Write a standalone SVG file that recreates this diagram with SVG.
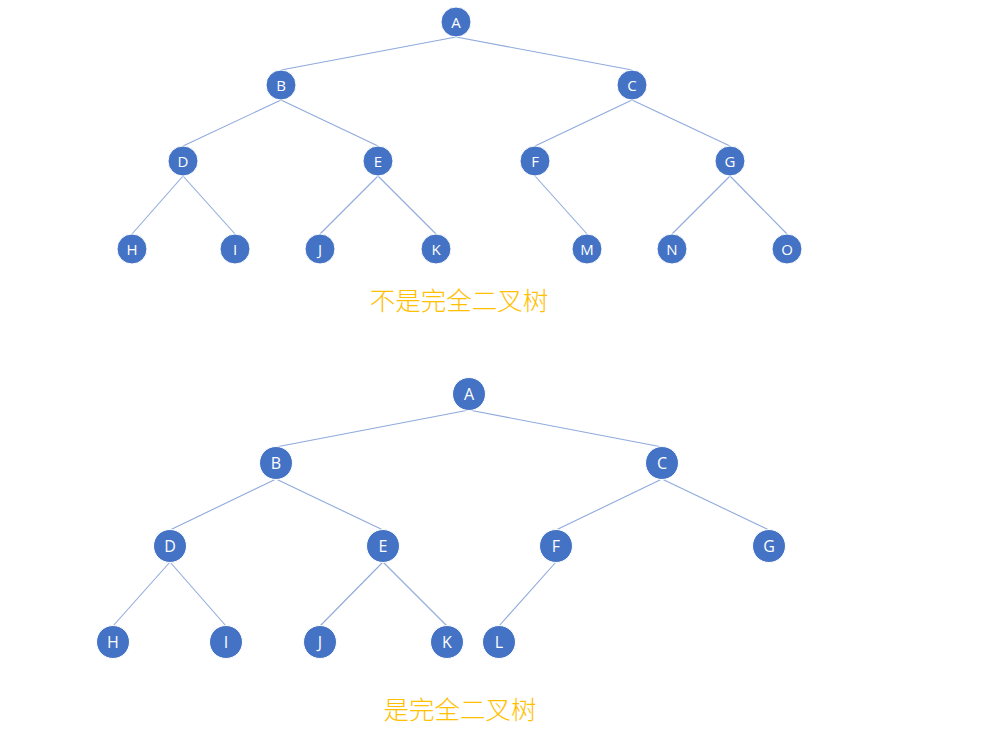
<svg xmlns="http://www.w3.org/2000/svg" width="987" height="744" viewBox="0 0 987 744">
<style>
.n circle{fill:#4472C4;stroke:#ffffff;stroke-width:1}
.n text{fill:#ffffff;font-family:"Open Sans","Liberation Sans",sans-serif;text-anchor:middle;dominant-baseline:central}
.t1 text{font-size:15px}
.t2 text{font-size:16px}
.e line{stroke:#8FAADC;stroke-width:1.1}
.cap{fill:#FFC000;font-family:"Noto Sans CJK SC",sans-serif;font-size:25.5px;font-weight:300;text-anchor:middle}
</style>
<rect width="987" height="744" fill="#ffffff"/>
<g id="edges1" class="e">
<line x1="456" y1="37" x2="281" y2="70"/>
<line x1="456" y1="37" x2="632" y2="70"/>
<line x1="281" y1="100" x2="183" y2="146"/>
<line x1="281" y1="100" x2="378" y2="146"/>
<line x1="632" y1="100" x2="535" y2="146"/>
<line x1="632" y1="100" x2="730" y2="146"/>
<line x1="183" y1="176" x2="132" y2="234"/>
<line x1="183" y1="176" x2="235" y2="234"/>
<line x1="378" y1="176" x2="320" y2="234"/>
<line x1="378" y1="176" x2="436" y2="234"/>
<line x1="535" y1="176" x2="587" y2="234"/>
<line x1="730" y1="176" x2="672" y2="234"/>
<line x1="730" y1="176" x2="787" y2="234"/>
</g>
<g class="n t1">
<g id="t1A"><circle cx="456" cy="22" r="15"/><text x="456" y="22">A</text></g>
<g id="t1B"><circle cx="281" cy="85" r="15"/><text x="281" y="85">B</text></g>
<g id="t1C"><circle cx="632" cy="85" r="15"/><text x="632" y="85">C</text></g>
<g id="t1D"><circle cx="183" cy="161" r="15"/><text x="183" y="161">D</text></g>
<g id="t1E"><circle cx="378" cy="161" r="15"/><text x="378" y="161">E</text></g>
<g id="t1F"><circle cx="535" cy="161" r="15"/><text x="535" y="161">F</text></g>
<g id="t1G"><circle cx="730" cy="161" r="15"/><text x="730" y="161">G</text></g>
<g id="t1H"><circle cx="132" cy="249" r="15"/><text x="132" y="249">H</text></g>
<g id="t1I"><circle cx="235" cy="249" r="15"/><text x="235" y="249">I</text></g>
<g id="t1J"><circle cx="320" cy="249" r="15"/><text x="320" y="249">J</text></g>
<g id="t1K"><circle cx="436" cy="249" r="15"/><text x="436" y="249">K</text></g>
<g id="t1M"><circle cx="587" cy="249" r="15"/><text x="587" y="249">M</text></g>
<g id="t1N"><circle cx="672" cy="249" r="15"/><text x="672" y="249">N</text></g>
<g id="t1O"><circle cx="787" cy="249" r="15"/><text x="787" y="249">O</text></g>
</g>
<text id="cap1" class="cap" x="459" y="310">不是完全二叉树</text>
<g id="edges2" class="e">
<line x1="469" y1="410" x2="276" y2="447"/>
<line x1="469" y1="410" x2="662" y2="447"/>
<line x1="276" y1="479" x2="170" y2="530"/>
<line x1="276" y1="479" x2="383" y2="530"/>
<line x1="662" y1="479" x2="556" y2="530"/>
<line x1="662" y1="479" x2="769" y2="530"/>
<line x1="170" y1="562" x2="113" y2="626"/>
<line x1="170" y1="562" x2="226" y2="626"/>
<line x1="383" y1="562" x2="320" y2="626"/>
<line x1="383" y1="562" x2="447" y2="626"/>
<line x1="556" y1="562" x2="499" y2="626"/>
</g>
<g class="n t2">
<g id="t2A"><circle cx="469" cy="394" r="16.5"/><text x="469" y="394">A</text></g>
<g id="t2B"><circle cx="276" cy="463" r="16.5"/><text x="276" y="463">B</text></g>
<g id="t2C"><circle cx="662" cy="463" r="16.5"/><text x="662" y="463">C</text></g>
<g id="t2D"><circle cx="170" cy="546" r="16.5"/><text x="170" y="546">D</text></g>
<g id="t2E"><circle cx="383" cy="546" r="16.5"/><text x="383" y="546">E</text></g>
<g id="t2F"><circle cx="556" cy="546" r="16.5"/><text x="556" y="546">F</text></g>
<g id="t2G"><circle cx="769" cy="546" r="16.5"/><text x="769" y="546">G</text></g>
<g id="t2H"><circle cx="113" cy="642" r="16.5"/><text x="113" y="642">H</text></g>
<g id="t2I"><circle cx="226" cy="642" r="16.5"/><text x="226" y="642">I</text></g>
<g id="t2J"><circle cx="320" cy="642" r="16.5"/><text x="320" y="642">J</text></g>
<g id="t2K"><circle cx="447" cy="642" r="16.5"/><text x="447" y="642">K</text></g>
<g id="t2L"><circle cx="499" cy="642" r="16.5"/><text x="499" y="642">L</text></g>
</g>
<text id="cap2" class="cap" x="460" y="719">是完全二叉树</text>
</svg>
